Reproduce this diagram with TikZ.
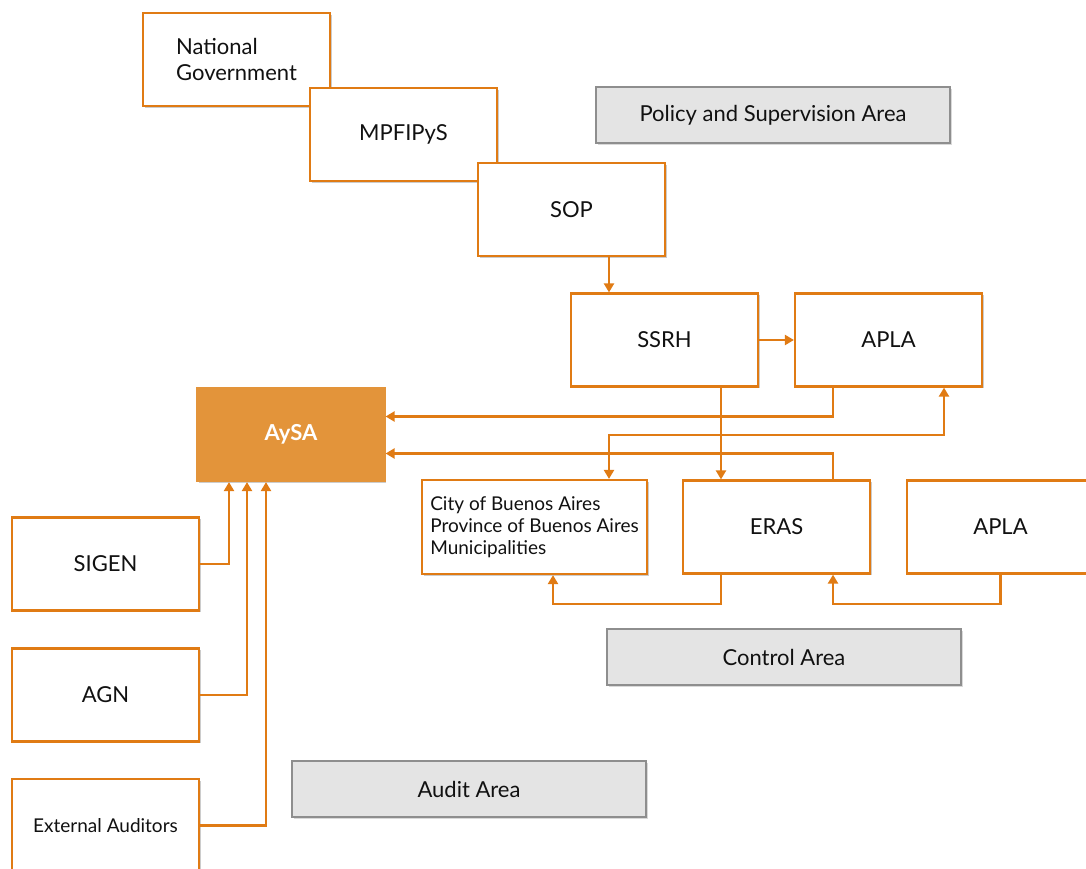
\documentclass[tikz,border=0pt]{standalone}
\usepackage{fontspec}
\setmainfont{Lato}
\usetikzlibrary{arrows.meta,shadows}
\definecolor{orgline}{HTML}{E07B14}
\definecolor{orgfill}{HTML}{E3943A}
\definecolor{areafill}{HTML}{E4E4E4}
\definecolor{areaedge}{HTML}{8E8E8E}
\definecolor{boxtext}{HTML}{111111}
\begin{document}
\begin{tikzpicture}[
  x=0.5pt, y=-0.5pt,
  orgbox/.style={rectangle, draw=orgline, line width=1.1pt, fill=white, text=boxtext,
    minimum width=93.5pt, minimum height=46.5pt, align=left, font=\fontsize{11}{13}\selectfont,
    drop shadow={shadow xshift=0.8pt, shadow yshift=-0.8pt, fill=black, opacity=0.2}},
  areabox/.style={rectangle, draw=areaedge, line width=0.9pt, fill=areafill, text=boxtext,
    minimum width=177pt, minimum height=28pt, font=\fontsize{11}{13}\selectfont,
    drop shadow={shadow xshift=0.8pt, shadow yshift=-0.8pt, fill=black, opacity=0.15}},
  link/.style={draw=orgline, line width=1.1pt, -{Triangle[width=5pt,length=4.5pt]}}
]
  \clip (0,0) rectangle (1086,868);
  % policy and supervision
  \node[orgbox] (natgov) at (236.5,59.5) {National\\Government};
  \node[orgbox] (mpf) at (403.5,134.5) {MPFIPyS};
  \node[orgbox] (sop) at (571.5,209.5) {SOP};
  \node[areabox] (policy) at (773,115) {Policy and Supervision Area};
  \node[orgbox] (ssrh) at (664.5,340) {SSRH};
  \node[orgbox] (aplatop) at (888.5,340) {APLA};
  % the company
  \node[orgbox, fill=orgfill, draw=orgfill, text=white, font=\fontsize{11}{13}\selectfont\bfseries] (aysa) at (291,434.5) {AySA};
  % control
  \node[orgbox, minimum width=112.5pt, minimum height=47pt, font=\fontsize{9.5}{11}\selectfont] (city) at (534.5,527)
    {City of Buenos Aires\\Province of Buenos Aires\\Municipalities};
  \node[orgbox] (eras) at (776.5,527) {ERAS};
  \node[orgbox] (aplabot) at (1000.5,527) {APLA};
  \node[areabox] (control) at (784,657) {Control Area};
  % audit
  \node[orgbox] (sigen) at (105.5,564) {SIGEN};
  \node[orgbox] (agn) at (105.5,695) {AGN};
  \node[orgbox, font=\fontsize{9.5}{11}\selectfont] (extaud) at (105.5,825.5) {External Auditors};
  \node[areabox] (audit) at (469,789) {Audit Area};

  \draw[link] ([xshift=18.75pt]sop.south) -- ([xshift=18.75pt]sop.south |- ssrh.north);
  \draw[link] (ssrh.east) -- (aplatop.west);
  \draw[link] ([xshift=-27.75pt]aplatop.south) |- ([yshift=9pt]aysa.east);
  \draw[link, {Triangle[width=5pt,length=4.5pt]}-{Triangle[width=5pt,length=4.5pt]}]
    ([xshift=37.25pt]city.north) -- ++(0,-44) -| ([xshift=27.75pt]aplatop.south);
  \draw[link] ([xshift=28.25pt]ssrh.south) -- ([xshift=28.25pt]ssrh.south |- eras.north);
  \draw[link] ([xshift=28.25pt]eras.north) |- ([yshift=-9.5pt]aysa.east);
  \draw[link] ([xshift=-27.75pt]eras.south) -- ++(0,29) -| ([xshift=9.25pt]city.south);
  \draw[link] (aplabot.south) -- ++(0,29) -| ([xshift=28.25pt]eras.south);
  \draw[link] (sigen.east) -| ([xshift=-31pt]aysa.south);
  \draw[link] (agn.east) -| ([xshift=-22pt]aysa.south);
  \draw[link] (extaud.east) -| ([xshift=-12.5pt]aysa.south);
\end{tikzpicture}
\end{document}
